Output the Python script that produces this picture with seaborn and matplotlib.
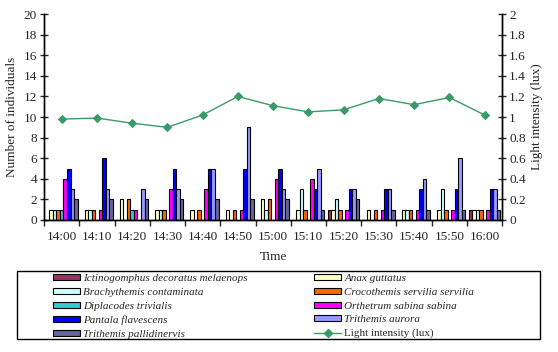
import matplotlib
matplotlib.use("Agg")
import matplotlib.pyplot as plt
import seaborn as sns
import pandas as pd
from matplotlib.lines import Line2D
from matplotlib.patches import Patch, Rectangle
from matplotlib.ticker import FormatStrFormatter, MultipleLocator

TIMES = ["14:00", "14:10", "14:20", "14:30", "14:40", "14:50", "15:00",
         "15:10", "15:20", "15:30", "15:40", "15:50", "16:00"]

SPECIES = [
    "Ictinogomphus decoratus melaenops",
    "Anax guttatus",
    "Brachythemis contaminata",
    "Crocothemis servilia servilia",
    "Diplacodes trivialis",
    "Orthetrum sabina sabina",
    "Pantala flavescens",
    "Trithemis aurora",
    "Trithemis pallidinervis",
]
COLORS = ["#993366", "#FFFFCC", "#CCFFFF", "#FF6600", "#33CCCC",
          "#FF00FF", "#0000FF", "#9999FF", "#666699"]
LINE_COLOR = "#3A9A6A"

# counts per species, one value per time slot
ICTINOGOMPHUS = [0, 0, 0, 0, 0, 0, 0, 0, 1, 0, 0, 0, 1]
ANAX = [1, 1, 2, 1, 1, 1, 2, 1, 1, 1, 1, 1, 1]
BRACHYTHEMIS = [1, 1, 0, 1, 0, 0, 1, 3, 2, 0, 1, 3, 1]
CROCOTHEMIS = [1, 1, 2, 1, 1, 1, 2, 1, 1, 1, 1, 1, 1]
DIPLACODES = [1, 0, 1, 0, 0, 0, 0, 0, 0, 0, 0, 0, 0]
ORTHETRUM = [4, 1, 1, 3, 3, 1, 4, 4, 1, 1, 1, 1, 1]
PANTALA = [5, 6, 0, 5, 5, 5, 5, 3, 3, 3, 3, 3, 3]
T_AURORA = [3, 3, 3, 3, 5, 9, 3, 5, 3, 3, 4, 6, 3]
T_PALLIDINERVIS = [2, 2, 2, 2, 2, 2, 2, 1, 2, 1, 1, 1, 1]

LIGHT = [0.98, 0.99, 0.94, 0.90, 1.02, 1.20, 1.11, 1.05, 1.07, 1.18, 1.12,
         1.19, 1.02]

counts = [ICTINOGOMPHUS, ANAX, BRACHYTHEMIS, CROCOTHEMIS, DIPLACODES,
          ORTHETRUM, PANTALA, T_AURORA, T_PALLIDINERVIS]

rows = []
for sp, vals in zip(SPECIES, counts):
    for t, v in zip(TIMES, vals):
        rows.append({"Time": t, "Species": sp, "Count": v})
df = pd.DataFrame(rows)
light_df = pd.DataFrame({"Time": TIMES, "Light": LIGHT})

sns.set_style("ticks")
plt.rcParams["font.family"] = ["Liberation Serif", "DejaVu Serif"]
plt.rcParams["font.size"] = 9.5

fig = plt.figure(figsize=(5.58, 3.52), dpi=100)
ax = fig.add_axes([0.079, 0.375, 0.821, 0.585])

sns.barplot(data=df, x="Time", y="Count", hue="Species", order=TIMES,
            hue_order=SPECIES, palette=COLORS, width=0.9, saturation=1,
            edgecolor="black", linewidth=0.8, errorbar=None, legend=False,
            ax=ax)

# zero counts are not drawn in the original
for p in ax.patches:
    if p.get_height() == 0:
        p.set_visible(False)

ax2 = ax.twinx()
sns.pointplot(data=light_df, x="Time", y="Light", order=TIMES,
              color=LINE_COLOR, markers="D", markersize=4.5, linewidth=1.0,
              errorbar=None, ax=ax2)

ax.set_ylim(0, 20)
ax2.set_ylim(0, 2)
ax.set_xlim(-0.5, 12.5)
ax.yaxis.set_major_locator(MultipleLocator(2))
ax2.yaxis.set_major_locator(MultipleLocator(0.2))
ax2.yaxis.set_major_formatter(FormatStrFormatter("%g"))

ax.set_xlabel("Time", labelpad=6)
ax.set_ylabel("Number of individuals")
ax2.set_ylabel("Light intensity (lux)")

ax.spines["top"].set_visible(False)
ax2.spines["top"].set_visible(False)
for a in (ax, ax2):
    for s in a.spines.values():
        s.set_linewidth(1.0)
        s.set_color("black")

ax.tick_params(axis="y", direction="inout", length=6, width=1, pad=2)
ax2.tick_params(axis="y", direction="inout", length=6, width=1, pad=2)
ax.tick_params(axis="x", which="major", length=0, pad=8)
ax.set_xticks([i + 0.5 for i in range(-1, 13)], minor=True)
ax.tick_params(axis="x", which="minor", direction="out", length=4, width=1)

# legend: species laid out row by row, two per row
handles = [Patch(facecolor=c, edgecolor="black", linewidth=0.8) for c in COLORS]
handles.append(Line2D([], [], color=LINE_COLOR, marker="D", markersize=4,
                      linewidth=1.0))
labels = SPECIES + ["Light intensity (lux)"]
order = [0, 2, 4, 6, 8, 1, 3, 5, 7, 9]
leg = fig.legend([handles[i] for i in order], [labels[i] for i in order],
                 ncol=2, loc="upper left", bbox_to_anchor=(0.095, 0.221),
                 fontsize=8, frameon=False, handlelength=2.4,
                 handleheight=0.45, labelspacing=0.42, handletextpad=0.3,
                 borderpad=0, borderaxespad=0, columnspacing=6.0)
for txt in leg.get_texts():
    if txt.get_text() != "Light intensity (lux)":
        txt.set_style("italic")

fig.patches.append(Rectangle((0.0305, 0.037), 0.937, 0.194,
                             transform=fig.transFigure, fill=False,
                             edgecolor="black", linewidth=1.0))

fig.savefig("out.png", dpi=100)
